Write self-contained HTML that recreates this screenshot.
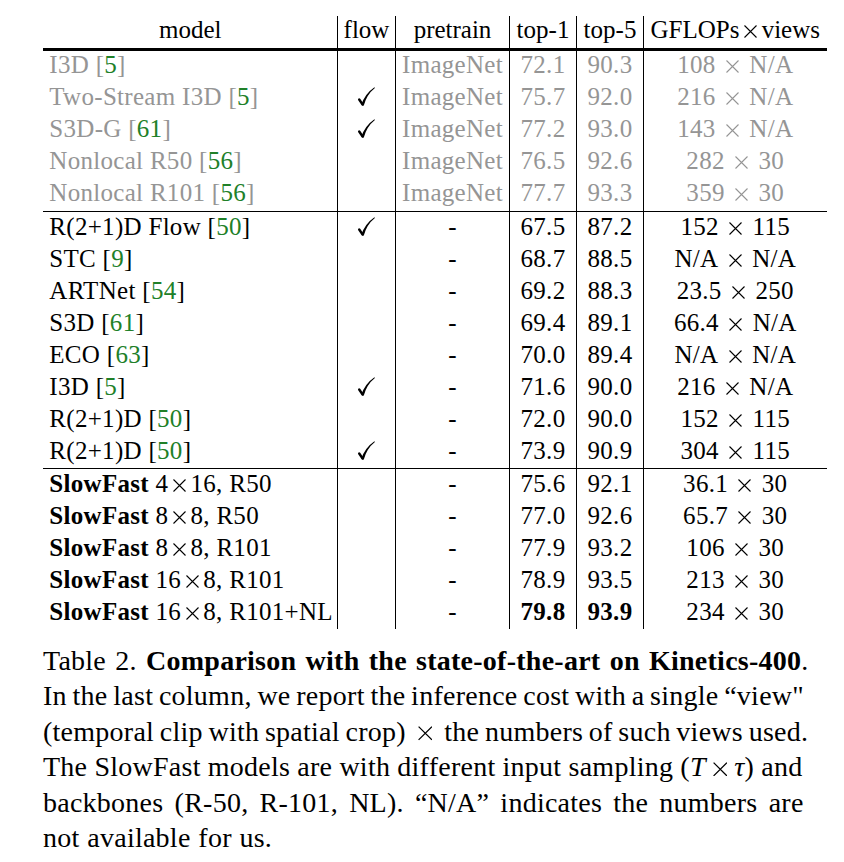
<!DOCTYPE html>
<html><head><meta charset="utf-8"><style>
html,body{margin:0;padding:0;background:#fff;}
body{width:844px;height:862px;position:relative;overflow:hidden;font-family:"Liberation Serif","DejaVu Serif",serif;color:#000;}
.c{position:absolute;white-space:nowrap;font-size:25.0px;line-height:32px;}
.b{letter-spacing:0.3px;}
.gr{color:#959595;}
.g{color:rgb(32,128,40);}
.xh{margin:0 1px;}
.hr{position:absolute;background:#000;}
.vr{position:absolute;width:1.2px;background:#000;}
.ckw{position:absolute;width:22px;height:22px;}
.ck{display:block;}
.cl{position:absolute;left:43px;white-space:nowrap;font-size:28.0px;line-height:36px;letter-spacing:0.25px;}
.x{margin:0 4.6px;vertical-align:0;}
.xs{margin:0 10.4px;vertical-align:0;}
.cx{margin:0 12px;vertical-align:0;}
.cxt{margin:0 7px;vertical-align:0;}
</style></head><body>
<div class="c " style="left:43px;width:294.5px;top:13.96px;text-align:center">model</div>
<div class="c " style="left:337.5px;width:58.0px;top:13.96px;text-align:center">flow</div>
<div class="c " style="left:395.5px;width:114.0px;top:13.96px;text-align:center">pretrain</div>
<div class="c " style="left:509.5px;width:67.0px;top:13.96px;text-align:center">top-1</div>
<div class="c " style="left:576.5px;width:67.0px;top:13.96px;text-align:center">top-5</div>
<div class="c " style="left:643.5px;width:183.5px;top:13.96px;text-align:center">GFLOPs<svg class="x" width="13" height="13" viewBox="0 0 13 13"><path d="M0.5,0.5L12.5,12.5M12.5,0.5L0.5,12.5" stroke="currentColor" stroke-width="1.1"/></svg>views</div>
<div class="c gr b" style="left:49.3px;top:49.26px;">I3D [<span class="g">5</span>]</div>
<div class="c gr b" style="left:395.5px;width:114.0px;top:49.26px;text-align:center">ImageNet</div>
<div class="c gr b" style="left:509.5px;width:67.0px;top:49.26px;text-align:center">72.1</div>
<div class="c gr b" style="left:576.5px;width:67.0px;top:49.26px;text-align:center">90.3</div>
<div class="c gr b" style="left:643.5px;width:183.5px;top:49.26px;text-align:center">108<svg class="xs" width="13" height="13" viewBox="0 0 13 13"><path d="M0.5,0.5L12.5,12.5M12.5,0.5L0.5,12.5" stroke="currentColor" stroke-width="1.1"/></svg>N/A</div>
<div class="c gr b" style="left:49.3px;top:81.26px;">Two-Stream I3D [<span class="g">5</span>]</div>
<div class="ckw" style="left:354.8px;top:86.70px"><svg class="ck" width="22" height="22" viewBox="0 0 22 22"><path d="M4.2,12.5 L7.6,17.5" stroke="#000" stroke-width="2.4" stroke-linecap="round" fill="none"/><path d="M6.4,17.6 Q9.9,6.8 19.4,0.2 L19.9,0.9 Q11.6,7.6 8.8,18.4 Q7.8,18.9 6.4,17.6 Z" fill="#000"/></svg></div>
<div class="c gr b" style="left:395.5px;width:114.0px;top:81.26px;text-align:center">ImageNet</div>
<div class="c gr b" style="left:509.5px;width:67.0px;top:81.26px;text-align:center">75.7</div>
<div class="c gr b" style="left:576.5px;width:67.0px;top:81.26px;text-align:center">92.0</div>
<div class="c gr b" style="left:643.5px;width:183.5px;top:81.26px;text-align:center">216<svg class="xs" width="13" height="13" viewBox="0 0 13 13"><path d="M0.5,0.5L12.5,12.5M12.5,0.5L0.5,12.5" stroke="currentColor" stroke-width="1.1"/></svg>N/A</div>
<div class="c gr b" style="left:49.3px;top:113.26px;">S3D-G [<span class="g">61</span>]</div>
<div class="ckw" style="left:354.8px;top:118.70px"><svg class="ck" width="22" height="22" viewBox="0 0 22 22"><path d="M4.2,12.5 L7.6,17.5" stroke="#000" stroke-width="2.4" stroke-linecap="round" fill="none"/><path d="M6.4,17.6 Q9.9,6.8 19.4,0.2 L19.9,0.9 Q11.6,7.6 8.8,18.4 Q7.8,18.9 6.4,17.6 Z" fill="#000"/></svg></div>
<div class="c gr b" style="left:395.5px;width:114.0px;top:113.26px;text-align:center">ImageNet</div>
<div class="c gr b" style="left:509.5px;width:67.0px;top:113.26px;text-align:center">77.2</div>
<div class="c gr b" style="left:576.5px;width:67.0px;top:113.26px;text-align:center">93.0</div>
<div class="c gr b" style="left:643.5px;width:183.5px;top:113.26px;text-align:center">143<svg class="xs" width="13" height="13" viewBox="0 0 13 13"><path d="M0.5,0.5L12.5,12.5M12.5,0.5L0.5,12.5" stroke="currentColor" stroke-width="1.1"/></svg>N/A</div>
<div class="c gr b" style="left:49.3px;top:145.26px;">Nonlocal R50 [<span class="g">56</span>]</div>
<div class="c gr b" style="left:395.5px;width:114.0px;top:145.26px;text-align:center">ImageNet</div>
<div class="c gr b" style="left:509.5px;width:67.0px;top:145.26px;text-align:center">76.5</div>
<div class="c gr b" style="left:576.5px;width:67.0px;top:145.26px;text-align:center">92.6</div>
<div class="c gr b" style="left:643.5px;width:183.5px;top:145.26px;text-align:center">282<svg class="xs" width="13" height="13" viewBox="0 0 13 13"><path d="M0.5,0.5L12.5,12.5M12.5,0.5L0.5,12.5" stroke="currentColor" stroke-width="1.1"/></svg>30</div>
<div class="c gr b" style="left:49.3px;top:177.26px;">Nonlocal R101 [<span class="g">56</span>]</div>
<div class="c gr b" style="left:395.5px;width:114.0px;top:177.26px;text-align:center">ImageNet</div>
<div class="c gr b" style="left:509.5px;width:67.0px;top:177.26px;text-align:center">77.7</div>
<div class="c gr b" style="left:576.5px;width:67.0px;top:177.26px;text-align:center">93.3</div>
<div class="c gr b" style="left:643.5px;width:183.5px;top:177.26px;text-align:center">359<svg class="xs" width="13" height="13" viewBox="0 0 13 13"><path d="M0.5,0.5L12.5,12.5M12.5,0.5L0.5,12.5" stroke="currentColor" stroke-width="1.1"/></svg>30</div>
<div class="c b" style="left:49.3px;top:211.16px;">R(2+1)D Flow [<span class="g">50</span>]</div>
<div class="ckw" style="left:354.8px;top:216.60px"><svg class="ck" width="22" height="22" viewBox="0 0 22 22"><path d="M4.2,12.5 L7.6,17.5" stroke="#000" stroke-width="2.4" stroke-linecap="round" fill="none"/><path d="M6.4,17.6 Q9.9,6.8 19.4,0.2 L19.9,0.9 Q11.6,7.6 8.8,18.4 Q7.8,18.9 6.4,17.6 Z" fill="#000"/></svg></div>
<div class="c b" style="left:395.5px;width:114.0px;top:211.16px;text-align:center">-</div>
<div class="c b" style="left:509.5px;width:67.0px;top:211.16px;text-align:center">67.5</div>
<div class="c b" style="left:576.5px;width:67.0px;top:211.16px;text-align:center">87.2</div>
<div class="c b" style="left:643.5px;width:183.5px;top:211.16px;text-align:center">152<svg class="xs" width="13" height="13" viewBox="0 0 13 13"><path d="M0.5,0.5L12.5,12.5M12.5,0.5L0.5,12.5" stroke="currentColor" stroke-width="1.1"/></svg>115</div>
<div class="c b" style="left:49.3px;top:243.16px;">STC [<span class="g">9</span>]</div>
<div class="c b" style="left:395.5px;width:114.0px;top:243.16px;text-align:center">-</div>
<div class="c b" style="left:509.5px;width:67.0px;top:243.16px;text-align:center">68.7</div>
<div class="c b" style="left:576.5px;width:67.0px;top:243.16px;text-align:center">88.5</div>
<div class="c b" style="left:643.5px;width:183.5px;top:243.16px;text-align:center">N/A<svg class="xs" width="13" height="13" viewBox="0 0 13 13"><path d="M0.5,0.5L12.5,12.5M12.5,0.5L0.5,12.5" stroke="currentColor" stroke-width="1.1"/></svg>N/A</div>
<div class="c b" style="left:49.3px;top:275.16px;">ARTNet [<span class="g">54</span>]</div>
<div class="c b" style="left:395.5px;width:114.0px;top:275.16px;text-align:center">-</div>
<div class="c b" style="left:509.5px;width:67.0px;top:275.16px;text-align:center">69.2</div>
<div class="c b" style="left:576.5px;width:67.0px;top:275.16px;text-align:center">88.3</div>
<div class="c b" style="left:643.5px;width:183.5px;top:275.16px;text-align:center">23.5<svg class="xs" width="13" height="13" viewBox="0 0 13 13"><path d="M0.5,0.5L12.5,12.5M12.5,0.5L0.5,12.5" stroke="currentColor" stroke-width="1.1"/></svg>250</div>
<div class="c b" style="left:49.3px;top:307.16px;">S3D [<span class="g">61</span>]</div>
<div class="c b" style="left:395.5px;width:114.0px;top:307.16px;text-align:center">-</div>
<div class="c b" style="left:509.5px;width:67.0px;top:307.16px;text-align:center">69.4</div>
<div class="c b" style="left:576.5px;width:67.0px;top:307.16px;text-align:center">89.1</div>
<div class="c b" style="left:643.5px;width:183.5px;top:307.16px;text-align:center">66.4<svg class="xs" width="13" height="13" viewBox="0 0 13 13"><path d="M0.5,0.5L12.5,12.5M12.5,0.5L0.5,12.5" stroke="currentColor" stroke-width="1.1"/></svg>N/A</div>
<div class="c b" style="left:49.3px;top:339.16px;">ECO [<span class="g">63</span>]</div>
<div class="c b" style="left:395.5px;width:114.0px;top:339.16px;text-align:center">-</div>
<div class="c b" style="left:509.5px;width:67.0px;top:339.16px;text-align:center">70.0</div>
<div class="c b" style="left:576.5px;width:67.0px;top:339.16px;text-align:center">89.4</div>
<div class="c b" style="left:643.5px;width:183.5px;top:339.16px;text-align:center">N/A<svg class="xs" width="13" height="13" viewBox="0 0 13 13"><path d="M0.5,0.5L12.5,12.5M12.5,0.5L0.5,12.5" stroke="currentColor" stroke-width="1.1"/></svg>N/A</div>
<div class="c b" style="left:49.3px;top:371.16px;">I3D [<span class="g">5</span>]</div>
<div class="ckw" style="left:354.8px;top:376.60px"><svg class="ck" width="22" height="22" viewBox="0 0 22 22"><path d="M4.2,12.5 L7.6,17.5" stroke="#000" stroke-width="2.4" stroke-linecap="round" fill="none"/><path d="M6.4,17.6 Q9.9,6.8 19.4,0.2 L19.9,0.9 Q11.6,7.6 8.8,18.4 Q7.8,18.9 6.4,17.6 Z" fill="#000"/></svg></div>
<div class="c b" style="left:395.5px;width:114.0px;top:371.16px;text-align:center">-</div>
<div class="c b" style="left:509.5px;width:67.0px;top:371.16px;text-align:center">71.6</div>
<div class="c b" style="left:576.5px;width:67.0px;top:371.16px;text-align:center">90.0</div>
<div class="c b" style="left:643.5px;width:183.5px;top:371.16px;text-align:center">216<svg class="xs" width="13" height="13" viewBox="0 0 13 13"><path d="M0.5,0.5L12.5,12.5M12.5,0.5L0.5,12.5" stroke="currentColor" stroke-width="1.1"/></svg>N/A</div>
<div class="c b" style="left:49.3px;top:403.16px;">R(2+1)D [<span class="g">50</span>]</div>
<div class="c b" style="left:395.5px;width:114.0px;top:403.16px;text-align:center">-</div>
<div class="c b" style="left:509.5px;width:67.0px;top:403.16px;text-align:center">72.0</div>
<div class="c b" style="left:576.5px;width:67.0px;top:403.16px;text-align:center">90.0</div>
<div class="c b" style="left:643.5px;width:183.5px;top:403.16px;text-align:center">152<svg class="xs" width="13" height="13" viewBox="0 0 13 13"><path d="M0.5,0.5L12.5,12.5M12.5,0.5L0.5,12.5" stroke="currentColor" stroke-width="1.1"/></svg>115</div>
<div class="c b" style="left:49.3px;top:435.16px;">R(2+1)D [<span class="g">50</span>]</div>
<div class="ckw" style="left:354.8px;top:440.60px"><svg class="ck" width="22" height="22" viewBox="0 0 22 22"><path d="M4.2,12.5 L7.6,17.5" stroke="#000" stroke-width="2.4" stroke-linecap="round" fill="none"/><path d="M6.4,17.6 Q9.9,6.8 19.4,0.2 L19.9,0.9 Q11.6,7.6 8.8,18.4 Q7.8,18.9 6.4,17.6 Z" fill="#000"/></svg></div>
<div class="c b" style="left:395.5px;width:114.0px;top:435.16px;text-align:center">-</div>
<div class="c b" style="left:509.5px;width:67.0px;top:435.16px;text-align:center">73.9</div>
<div class="c b" style="left:576.5px;width:67.0px;top:435.16px;text-align:center">90.9</div>
<div class="c b" style="left:643.5px;width:183.5px;top:435.16px;text-align:center">304<svg class="xs" width="13" height="13" viewBox="0 0 13 13"><path d="M0.5,0.5L12.5,12.5M12.5,0.5L0.5,12.5" stroke="currentColor" stroke-width="1.1"/></svg>115</div>
<div class="c b" style="left:49.3px;top:468.16px;"><b>SlowFast</b> 4<svg class="x" width="13" height="13" viewBox="0 0 13 13"><path d="M0.5,0.5L12.5,12.5M12.5,0.5L0.5,12.5" stroke="currentColor" stroke-width="1.1"/></svg>16, R50</div>
<div class="c b" style="left:395.5px;width:114.0px;top:468.16px;text-align:center">-</div>
<div class="c b" style="left:509.5px;width:67.0px;top:468.16px;text-align:center">75.6</div>
<div class="c b" style="left:576.5px;width:67.0px;top:468.16px;text-align:center">92.1</div>
<div class="c b" style="left:643.5px;width:183.5px;top:468.16px;text-align:center">36.1<svg class="xs" width="13" height="13" viewBox="0 0 13 13"><path d="M0.5,0.5L12.5,12.5M12.5,0.5L0.5,12.5" stroke="currentColor" stroke-width="1.1"/></svg>30</div>
<div class="c b" style="left:49.3px;top:500.16px;"><b>SlowFast</b> 8<svg class="x" width="13" height="13" viewBox="0 0 13 13"><path d="M0.5,0.5L12.5,12.5M12.5,0.5L0.5,12.5" stroke="currentColor" stroke-width="1.1"/></svg>8, R50</div>
<div class="c b" style="left:395.5px;width:114.0px;top:500.16px;text-align:center">-</div>
<div class="c b" style="left:509.5px;width:67.0px;top:500.16px;text-align:center">77.0</div>
<div class="c b" style="left:576.5px;width:67.0px;top:500.16px;text-align:center">92.6</div>
<div class="c b" style="left:643.5px;width:183.5px;top:500.16px;text-align:center">65.7<svg class="xs" width="13" height="13" viewBox="0 0 13 13"><path d="M0.5,0.5L12.5,12.5M12.5,0.5L0.5,12.5" stroke="currentColor" stroke-width="1.1"/></svg>30</div>
<div class="c b" style="left:49.3px;top:532.16px;"><b>SlowFast</b> 8<svg class="x" width="13" height="13" viewBox="0 0 13 13"><path d="M0.5,0.5L12.5,12.5M12.5,0.5L0.5,12.5" stroke="currentColor" stroke-width="1.1"/></svg>8, R101</div>
<div class="c b" style="left:395.5px;width:114.0px;top:532.16px;text-align:center">-</div>
<div class="c b" style="left:509.5px;width:67.0px;top:532.16px;text-align:center">77.9</div>
<div class="c b" style="left:576.5px;width:67.0px;top:532.16px;text-align:center">93.2</div>
<div class="c b" style="left:643.5px;width:183.5px;top:532.16px;text-align:center">106<svg class="xs" width="13" height="13" viewBox="0 0 13 13"><path d="M0.5,0.5L12.5,12.5M12.5,0.5L0.5,12.5" stroke="currentColor" stroke-width="1.1"/></svg>30</div>
<div class="c b" style="left:49.3px;top:564.16px;"><b>SlowFast</b> 16<svg class="x" width="13" height="13" viewBox="0 0 13 13"><path d="M0.5,0.5L12.5,12.5M12.5,0.5L0.5,12.5" stroke="currentColor" stroke-width="1.1"/></svg>8, R101</div>
<div class="c b" style="left:395.5px;width:114.0px;top:564.16px;text-align:center">-</div>
<div class="c b" style="left:509.5px;width:67.0px;top:564.16px;text-align:center">78.9</div>
<div class="c b" style="left:576.5px;width:67.0px;top:564.16px;text-align:center">93.5</div>
<div class="c b" style="left:643.5px;width:183.5px;top:564.16px;text-align:center">213<svg class="xs" width="13" height="13" viewBox="0 0 13 13"><path d="M0.5,0.5L12.5,12.5M12.5,0.5L0.5,12.5" stroke="currentColor" stroke-width="1.1"/></svg>30</div>
<div class="c b" style="left:49.3px;top:596.16px;"><b>SlowFast</b> 16<svg class="x" width="13" height="13" viewBox="0 0 13 13"><path d="M0.5,0.5L12.5,12.5M12.5,0.5L0.5,12.5" stroke="currentColor" stroke-width="1.1"/></svg>8, R101+NL</div>
<div class="c b" style="left:395.5px;width:114.0px;top:596.16px;text-align:center">-</div>
<div class="c b" style="left:509.5px;width:67.0px;top:596.16px;text-align:center"><b>79.8</b></div>
<div class="c b" style="left:576.5px;width:67.0px;top:596.16px;text-align:center"><b>93.9</b></div>
<div class="c b" style="left:643.5px;width:183.5px;top:596.16px;text-align:center">234<svg class="xs" width="13" height="13" viewBox="0 0 13 13"><path d="M0.5,0.5L12.5,12.5M12.5,0.5L0.5,12.5" stroke="currentColor" stroke-width="1.1"/></svg>30</div>
<div class="hr" style="left:43px;top:47.6px;width:784px;height:3.2px"></div>
<div class="hr" style="left:43px;top:210.6px;width:784px;height:1.3px"></div>
<div class="hr" style="left:43px;top:468.2px;width:784px;height:1.3px"></div>
<div class="vr" style="left:336.9px;top:16px;height:613px;"></div>
<div class="vr" style="left:394.9px;top:16px;height:613px;"></div>
<div class="vr" style="left:508.9px;top:16px;height:613px;"></div>
<div class="vr" style="left:575.9px;top:16px;height:613px;"></div>
<div class="vr" style="left:642.9px;top:16px;height:613px;"></div>
<div class="cl" id="cl0" style="top:642.95px;word-spacing:2.000px">Table 2. <b>Comparison with the state-of-the-art on Kinetics-400</b>.</div>
<div class="cl" id="cl1" style="top:678.40px;word-spacing:-1.500px">In the last column, we report the inference cost with a single &ldquo;view&quot;</div>
<div class="cl" id="cl2" style="top:713.85px;word-spacing:-1.556px">(temporal clip with spatial crop)<svg class="cx" width="14.5" height="14.5" viewBox="0 0 14.5 14.5"><path d="M0.6,0.6L13.9,13.9M13.9,0.6L0.6,13.9" stroke="#000" stroke-width="1.25"/></svg>the numbers of such views used.</div>
<div class="cl" id="cl3" style="top:749.30px;word-spacing:-0.111px">The SlowFast models are with different input sampling (<i>T</i><svg class="cxt" width="14.5" height="14.5" viewBox="0 0 14.5 14.5"><path d="M0.6,0.6L13.9,13.9M13.9,0.6L0.6,13.9" stroke="#000" stroke-width="1.25"/></svg><i>&tau;</i>) and</div>
<div class="cl" id="cl4" style="top:784.75px;word-spacing:3.875px">backbones (R-50, R-101, NL). &ldquo;N/A&rdquo; indicates the numbers are</div>
<div class="cl" id="cl5" style="top:820.20px;word-spacing:0.500px">not available for us.</div>

</body></html>
